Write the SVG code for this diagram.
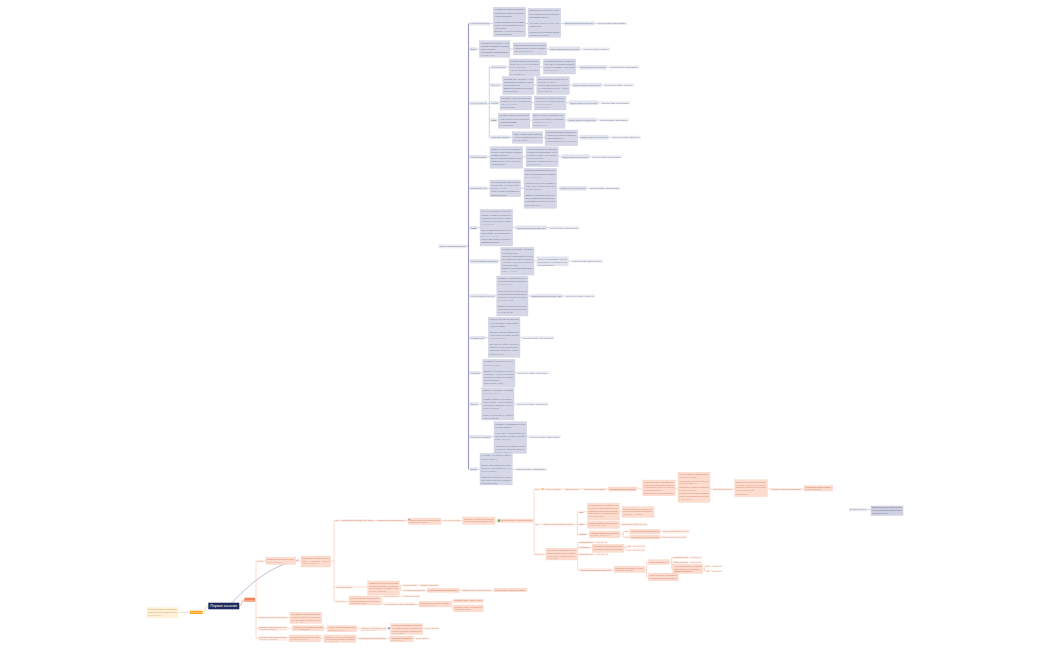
<svg xmlns="http://www.w3.org/2000/svg" width="1050" height="650" viewBox="0 0 1050 650">
<style>
.bb{fill:#d5d7e6;stroke:#c3c6da;stroke-width:.3}
.bl{fill:#e3e5ee;stroke:#d3d6e4;stroke-width:.2}
.be{fill:#ebecf2}
.ob{fill:#fcdccf;stroke:#f8c8b5;stroke-width:.3}
.ol{fill:#fdece5}
text{font-family:"Liberation Sans",Arial,sans-serif}
.tb{font-size:2.2px;fill:#7a7e98}
.to{font-size:2px;fill:#d3876c}
.cb{fill:none;stroke:#a3a7cc;stroke-width:.5}
.co{fill:none;stroke:#f6b59d;stroke-width:.5}
</style>
<rect width="1050" height="650" fill="#ffffff"/>
<g id="connectors">
<path fill="none" stroke="#9497bf" stroke-width="1.1" d="M467,246H468.5M468.5,23.5V469.3"/>
<path class="cb" d="M468.5,23.5H470M468.5,49H470M468.5,103.3H470M468.5,156.7H470M468.5,188.3H470M468.5,227.7H470M468.5,261H470M468.5,296H470M468.5,337.7H470M468.5,372.7H470M468.5,404H470M468.5,436.7H470M468.5,469.3H470"/>
<path class="cb" d="M490,23.5H493.3M525.7,23.5H528M560.7,23.5H564M594.3,23.5H596.7M476.7,49H479.3M510,49H513.3M546.7,49H549M580,49H582.7"/>
<path class="cb" d="M487.3,103.3H489.3M489.3,67V137.3M489.3,67H490.7M489.3,85H490.7M489.3,102.7H490.7M489.3,120H490.7M489.3,137.3H490.7"/>
<path class="cb" d="M506,67H509M540,67H543.3M575.7,67H579.3M606.7,67H609.3M500,85H502.7M534,85H536.7M569.3,85H572.7M601.7,85H604M498.3,102.7H500M531.7,102.7H534.3M566,102.7H569.3M598.3,102.7H600.7M496.7,120H498.3M530,120H532.3M565,120H567.7M596.7,120H599M510,137.3H512.3M542.7,137.3H545M577.7,137.3H580M608.7,137.3H611.7"/>
<path class="cb" d="M487.3,156.7H490M522.7,156.7H526M558.3,156.7H561.7M589.3,156.7H591.7M487.3,188.3H490M520.7,188.3H524M556.7,188.3H559.3M586.7,188.3H589.3M477.3,227.7H480M512.7,227.7H516M546.7,227.7H549M498.3,261H500.7M534,261H536.7M568.3,261H571.7M495,296H496.7M528,296H530.7M562.7,296H565M485,337.7H488.3M520,337.7H522.3M480,372.7H482.7M515,372.7H517.3M478.3,404H481.7M514,404H516.7M491,436.7H494M526.7,436.7H529M477.7,469.3H480M512.3,469.3H515.7"/>
<path class="cb" d="M867,509.7H870.7"/>
<path fill="none" stroke="#8d91c4" stroke-width=".6" d="M232,602.7C246,588 268,566 299,559.8"/>
<path fill="none" stroke="#f5b942" stroke-width=".6" d="M208.3,606C205,606 205.5,612.4 202.7,612.4"/>
<path fill="none" stroke="#d8cfb8" stroke-width=".5" d="M178.3,612.5H190"/>
<path fill="none" stroke="#f4845f" stroke-width=".7" d="M239.3,606C242,606 241.8,599.7 244.3,599.7"/>
<path class="co" d="M255,599.7H256M256,561V638.3M256,561H257M256,617.7H258.3M256,628.3H258.3M256,638.3H258.3" stroke-width=".8"/>
<path class="co" d="M264,561H265.7M296,561H301M330.7,561H334M334,520.7V601.7M334,520.7H335M334,587H335.7M334,601.7H335.7"/>
<path class="co" d="M339,520.7H341M374,520.7H377M405,520.7H408M441,520.7H444M460.7,520.7H462.7M495,520.7H497.3M533.3,520.7H534"/>
<path class="co" d="M353,587H367.7M399.3,587H400.7M400.7,585.2V590.5M400.7,585.2H402.7M417.3,585.2H420M400.7,590.5H402.7M425.3,590.5H427.3M459.3,590.5H461.7M491.7,590.5H494.3"/>
<path class="co" d="M346,601.7H349M380.7,601.7H382M382,596.2V604.2M382,596.2H384M399,596.2H402M382,604.2H384M415.7,604.2H419M450.7,604.2H451.7M451.7,600.8V608.3M451.7,600.8H453.3M451.7,608.3H453.3"/>
<path class="co" d="M287.7,617.7H290M287.3,628.3H292.3M324,628.3H327.3M356.7,628.3H360.7M386.7,628.3H390.7M422.7,628.3H425M287.3,638.3H289M320.7,638.3H324M356,638.3H359M386.7,638.3H390M413.3,638.3H415.7"/>
<path class="co" d="M534,489V554.3M534,489H535M534,524.3H535M534,554.3H535"/>
<path class="co" d="M539,489H545M561.7,489H564.3M580,489H583.3M606,489H608.7M636.7,489H642.7M675.3,489H678M710,489H712.7M732.7,489H734.7M767.3,489H770.7M801.7,489H804"/>
<path class="co" d="M539,524.3H542.7M573.3,524.3H577.3M577.3,511.7V534.3M577.3,511.7H578.7M584,511.7H587.3M619.3,511.7H622M577.3,524.3H578.7M584,524.3H587.3M619.3,524.3H621.3M577.3,534.3H578.7M586.7,534.3H589.3M620,534.3H623.3M623.3,531.7V537M623.3,531.7H625M628.3,531.7H630M660,531.7H662.7M623.3,537H625M628.3,537H630M660,537H661.7"/>
<path class="co" d="M543.3,554.3H546M576.7,554.3H577.7M577.7,542.3V570M577.7,542.3H579.3M577.7,547.7H579.3M577.7,554.3H579.3M577.7,570H579.3M593.3,542.3H596.7M590,547.7H592.3M624,547.7H626M626,546.2V550M626,546.2H627.7M630.7,546.2H633.3M626,550H627.7M630.7,550H633.3M593.3,554.3H596.7M611.7,570H614M645,570H646.7M646.7,562V577M646.7,562H648.3M646.7,577H648.3M669.3,562H671.7M671.7,557.7V569M671.7,557.7H672.7M671.7,562.3H672.7M671.7,569H672.7M688.3,557.7H690.7M688.3,562.3H690.7M702.7,569H704.7M704.7,566V571M704.7,566H706M709.3,566H712.3M704.7,571H706M709.3,571H712.3"/>
</g>
<g id="central">
<rect x="208.3" y="602.7" width="31" height="6.6" fill="#1f2a5c"/>
<text x="223.8" y="607.3" font-size="3.6" fill="#ffffff" text-anchor="middle" font-family="Liberation Serif, serif">Первое касание</text>
</g>
<g id="notes">
<rect x="190" y="610.7" width="12.7" height="3.3" fill="#f6a623"/>
<text x="191" y="613" font-size="1.9" fill="#ffffff" textLength="10.7">Заметки</text>
</g>
<g id="notes-text">
<rect x="146.7" y="607.3" width="31.6" height="10.7" fill="#fdf0d6"/>
<text class="to" style="fill:#c9a970" x="148" y="610.3" textLength="29">Перед звонком изучить сайт клиента,</text>
<text class="to" style="fill:#c9a970" x="148" y="613" textLength="29">найти ЛПР и подготовить вопросы</text>
<text class="to" style="fill:#c9a970" x="148" y="615.7" textLength="14">по продукту.</text>
</g>
<g id="script">
<rect x="244.3" y="597.7" width="10.7" height="4" fill="#f4845f"/>
<text x="245.3" y="600.5" font-size="1.9" fill="#ffffff" textLength="8.7">Скрипт</text>
</g>
<g id="extra">
<rect x="849" y="508" width="18" height="3.3" fill="#ebebef"/>
<text class="tb" x="849.8" y="510.4" textLength="16.4" style="fill:#8a8da0">Дополнительно</text>
<rect x="870.7" y="505.7" width="32.6" height="10" fill="#cfd1e3"/>
<text class="tb" x="872" y="508.3" textLength="30">Если клиент просит перезвонить, уточнить</text>
<text class="tb" x="872" y="510.9" textLength="30">точное время и имя контактного лица,</text>
<text class="tb" x="872" y="513.5" textLength="16">записать в CRM.</text>
</g>
<g id="blue-root">
<rect class="be" x="438.3" y="244.5" width="28.4" height="3.8"/>
<text class="tb" x="439.3" y="247.2" textLength="26.4">Основные возражения клиентов</text>
</g>
<g id="b1">
<rect class="bl" x="470" y="22" width="20" height="3.2"/><text class="tb" x="471" y="24.4" textLength="18">Нет потребности</text>
<rect class="bb" x="493.3" y="7.3" width="32.4" height="29.4"/>
<text class="tb" x="494.6" y="10.4" textLength="29.8">Понимаю вас. Скажите, пожалуйста,</text>
<text class="tb" x="494.6" y="13.5" textLength="29.8">а как сейчас решаете этот вопрос?</text>
<text class="tb" x="494.6" y="16.6" textLength="17">Кто ваш подрядчик?</text>
<text class="tb" x="494.6" y="22.8" textLength="29.8">Многие наши клиенты тоже так думали,</text>
<text class="tb" x="494.6" y="25.9" textLength="29.8">пока не посчитали свои расходы</text>
<text class="tb" x="494.6" y="29" textLength="12">на логистику.</text>
<text class="tb" x="494.6" y="32.1" textLength="29.8">Давайте я коротко расскажу,</text>
<text class="tb" x="494.6" y="35.2" textLength="17">что мы предлагаем.</text>
<rect class="bb" x="528" y="8.3" width="32.7" height="29"/>
<text class="tb" x="529.3" y="11.4" textLength="30">Если появится потребность, к кому</text>
<text class="tb" x="529.3" y="14.5" textLength="30">лучше обратиться? Можно я пришлю</text>
<text class="tb" x="529.3" y="17.6" textLength="19">информацию на почту?</text>
<text class="tb" x="529.3" y="23.8" textLength="30">Как вам удобнее получать</text>
<text class="tb" x="529.3" y="26.9" textLength="12">предложения?</text>
<text class="tb" x="529.3" y="33.1" textLength="30">Спасибо! Тогда я отправлю письмо</text>
<text class="tb" x="529.3" y="36.2" textLength="20">сегодня до конца дня.</text>
<rect class="bl" x="564" y="21.7" width="30.3" height="3.6"/><text class="tb" x="565" y="24.3" textLength="28.3">Задать вопрос и выслушать ответ</text>
<rect class="be" x="596.7" y="22" width="30" height="3"/><text class="tb" x="597.5" y="24.3" textLength="28.4">Переход к этапу «Презентация»</text>
</g>
<g id="b2">
<rect class="bl" x="470" y="47.4" width="6.7" height="3.2"/><text class="tb" x="470.6" y="49.8" textLength="5.5">Дорого</text>
<rect class="bb" x="479.3" y="40.7" width="30.7" height="16.6"/>
<text class="tb" x="480.6" y="43.8" textLength="28.1">Понимаю вас. Скажите, с чем</text>
<text class="tb" x="480.6" y="46.9" textLength="28.1">сравниваете? Давайте посчитаем</text>
<text class="tb" x="480.6" y="50" textLength="16">общую стоимость.</text>
<text class="tb" x="480.6" y="53.1" textLength="28.1">Мы работаем с компаниями вашего</text>
<text class="tb" x="480.6" y="56.2" textLength="15">размера.</text>
<rect class="bb" x="513.3" y="42.7" width="33.4" height="12.3"/>
<text class="tb" x="514.6" y="45.8" textLength="30.8">Если посчитать все расходы, то выгода</text>
<text class="tb" x="514.6" y="48.9" textLength="30.8">составит до 20%. Можно я пришлю</text>
<text class="tb" x="514.6" y="52" textLength="18">расчёт на почту?</text>
<rect class="bl" x="549" y="46.7" width="31" height="4.3"/><text class="tb" x="550" y="49.6" textLength="29">Задать вопрос и выслушать ответ</text>
<rect class="be" x="582.7" y="47.5" width="27.3" height="3"/><text class="tb" x="583.5" y="49.8" textLength="25.7">Переход к этапу «Расчёт»</text>
</g>
<g id="b3">
<rect class="bl" x="470" y="101.7" width="17.3" height="3.2"/><text class="tb" x="470.8" y="104.1" textLength="15.7">Нет времени</text>
<rect class="bl" x="490.7" y="65.4" width="15.3" height="3.2"/><text class="tb" x="491.4" y="67.8" textLength="13.9">Конкуренты</text>
<rect class="bb" x="509" y="59" width="31" height="17"/>
<text class="tb" x="510.3" y="62.1" textLength="28.4">Понимаю. Скажите, а с кем сейчас</text>
<text class="tb" x="510.3" y="65.2" textLength="28.4">работаете и что нравится</text>
<text class="tb" x="510.3" y="68.3" textLength="16">в их работе?</text>
<text class="tb" x="510.3" y="71.4" textLength="28.4">Что бы хотелось улучшить</text>
<text class="tb" x="510.3" y="74.5" textLength="14">в сервисе?</text>
<rect class="bb" x="543.3" y="59" width="32.4" height="15"/>
<text class="tb" x="544.6" y="62.1" textLength="29.8">Предлагаю сравнить условия, это</text>
<text class="tb" x="544.6" y="65.2" textLength="29.8">ни к чему не обязывает. Пришлю</text>
<text class="tb" x="544.6" y="68.3" textLength="29.8">короткую таблицу с расчётом</text>
<text class="tb" x="544.6" y="71.4" textLength="14">на почту.</text>
<rect class="bl" x="579.3" y="65.3" width="27.4" height="4"/><text class="tb" x="580.2" y="68.1" textLength="25.6">Задать вопрос и выслушать</text>
<rect class="be" x="609.3" y="65.5" width="29.7" height="3"/><text class="tb" x="610.1" y="67.8" textLength="28.1">Переход к этапу «Презентация»</text>
<rect class="bl" x="490.7" y="83.4" width="9.3" height="3.2"/><text class="tb" x="491.4" y="85.8" textLength="7.9">Цена</text>
<rect class="bb" x="502.7" y="76.7" width="31.3" height="17.8"/>
<text class="tb" x="504" y="79.8" textLength="28.7">Понимаю вас. Скажите, с чем</text>
<text class="tb" x="504" y="82.9" textLength="28.7">сравниваете стоимость? Какой</text>
<text class="tb" x="504" y="86" textLength="16">бюджет заложен?</text>
<text class="tb" x="504" y="89.1" textLength="28.7">Давайте посчитаем общую выгоду</text>
<text class="tb" x="504" y="92.2" textLength="15">за год работы.</text>
<rect class="bb" x="536.7" y="76.7" width="32.6" height="17.8"/>
<text class="tb" x="538" y="79.8" textLength="30">Если посчитать все расходы, то</text>
<text class="tb" x="538" y="82.9" textLength="18">выгода до 20%.</text>
<text class="tb" x="538" y="86" textLength="30">Можно я пришлю расчёт на почту</text>
<text class="tb" x="538" y="89.1" textLength="30">и созвонимся после, чтобы</text>
<text class="tb" x="538" y="92.2" textLength="14">обсудить?</text>
<rect class="bl" x="572.7" y="83" width="29" height="4"/><text class="tb" x="573.6" y="85.8" textLength="27.2">Задать вопрос и выслушать</text>
<rect class="be" x="604" y="83.5" width="30" height="3"/><text class="tb" x="604.8" y="85.8" textLength="28.4">Переход к этапу «Расчёт»</text>
<rect class="bl" x="490.7" y="101.1" width="7.6" height="3.2"/><text class="tb" x="491.3" y="103.5" textLength="6.4">Сроки</text>
<rect class="bb" x="500" y="96" width="31.7" height="14"/>
<text class="tb" x="501.3" y="99.1" textLength="29.1">Понимаю. Какие сроки для вас</text>
<text class="tb" x="501.3" y="102.2" textLength="29.1">критичны? Мы доставляем</text>
<text class="tb" x="501.3" y="105.3" textLength="17">за 1–3 дня.</text>
<text class="tb" x="501.3" y="108.4" textLength="14">по всей России.</text>
<rect class="bb" x="534.3" y="96" width="31.7" height="14"/>
<text class="tb" x="535.6" y="99.1" textLength="29.1">Предлагаю тестовую поставку,</text>
<text class="tb" x="535.6" y="102.2" textLength="29.1">чтобы вы оценили скорость</text>
<text class="tb" x="535.6" y="105.3" textLength="17">и качество.</text>
<text class="tb" x="535.6" y="108.4" textLength="14">Удобно?</text>
<rect class="bl" x="569.3" y="100.6" width="29" height="4.2"/><text class="tb" x="570.2" y="103.5" textLength="27.2">Задать вопрос и выслушать</text>
<rect class="be" x="600.7" y="101.2" width="29.3" height="3"/><text class="tb" x="601.5" y="103.5" textLength="27.7">Переход к этапу «Презентация»</text>
<rect class="bl" x="490.7" y="118.4" width="6" height="3.2"/><text class="tb" x="491.2" y="120.8" textLength="5">Объём</text>
<rect class="bb" x="498.3" y="113.3" width="31.7" height="15"/>
<text class="tb" x="499.6" y="116.4" textLength="29.1">Понимаю. Какие объёмы сейчас</text>
<text class="tb" x="499.6" y="119.5" textLength="29.1">у вас в месяц? Мы работаем</text>
<text class="tb" x="499.6" y="122.6" textLength="17">с любыми объёмами.</text>
<text class="tb" x="499.6" y="125.7" textLength="14">от 1 паллеты.</text>
<rect class="bb" x="532.3" y="113.3" width="32.7" height="15"/>
<text class="tb" x="533.6" y="116.4" textLength="30.1">Для небольших объёмов есть</text>
<text class="tb" x="533.6" y="119.5" textLength="30.1">отдельный тариф. Рассказать</text>
<text class="tb" x="533.6" y="122.6" textLength="17">подробнее?</text>
<text class="tb" x="533.6" y="125.7" textLength="14">Отлично.</text>
<rect class="bl" x="567.7" y="118" width="29" height="4"/><text class="tb" x="568.6" y="120.8" textLength="27.2">Задать вопрос и выслушать</text>
<rect class="be" x="599" y="118.5" width="30" height="3"/><text class="tb" x="599.8" y="120.8" textLength="28.4">Переход к этапу «Презентация»</text>
<rect class="bl" x="490.7" y="135.7" width="19.3" height="3.2"/><text class="tb" x="491.4" y="138.1" textLength="17.9">Условия оплаты</text>
<rect class="bb" x="512.3" y="131.7" width="30.4" height="11.6"/>
<text class="tb" x="513.6" y="134.8" textLength="27.8">Какие условия оплаты для вас</text>
<text class="tb" x="513.6" y="137.9" textLength="27.8">удобны? Возможна отсрочка</text>
<text class="tb" x="513.6" y="141" textLength="14">до 30 дней.</text>
<rect class="bb" x="545" y="130" width="32.7" height="15.7"/>
<text class="tb" x="546.3" y="133.1" textLength="30.1">Мы можем обсудить индивидуальные</text>
<text class="tb" x="546.3" y="136.2" textLength="30.1">условия для вашей компании.</text>
<text class="tb" x="546.3" y="139.3" textLength="17">Назначим встречу?</text>
<text class="tb" x="546.3" y="142.4" textLength="30.1">Когда вам будет удобно?</text>
<rect class="bl" x="580" y="135.1" width="28.7" height="4.3"/><text class="tb" x="580.9" y="138.1" textLength="26.9">Задать вопрос и выслушать</text>
<rect class="be" x="611.7" y="135.8" width="29" height="3"/><text class="tb" x="612.5" y="138.1" textLength="27.4">Переход к этапу «Встреча»</text>
</g>
<g id="b4">
<rect class="bl" x="470" y="155.1" width="17.3" height="3.2"/><text class="tb" x="470.8" y="157.5" textLength="15.7">Уже есть поставщик</text>
<rect class="bb" x="490" y="146.7" width="32.7" height="21.6"/>
<text class="tb" x="491.3" y="149.8" textLength="30.1">Отлично, значит вы понимаете</text>
<text class="tb" x="491.3" y="152.9" textLength="30.1">ценность услуги. Скажите, как долго</text>
<text class="tb" x="491.3" y="156" textLength="17">с ними работаете?</text>
<text class="tb" x="491.3" y="159.1" textLength="30.1">Всё ли устраивает? Если бы была</text>
<text class="tb" x="491.3" y="162.2" textLength="30.1">возможность что-то улучшить,</text>
<text class="tb" x="491.3" y="165.3" textLength="14">что бы это было?</text>
<rect class="bb" x="526" y="146.7" width="32.3" height="20"/>
<text class="tb" x="527.3" y="149.8" textLength="29.7">Многие наши клиенты работают</text>
<text class="tb" x="527.3" y="152.9" textLength="29.7">с двумя поставщиками, чтобы</text>
<text class="tb" x="527.3" y="156" textLength="29.7">снизить риски. Предлагаю</text>
<text class="tb" x="527.3" y="159.1" textLength="17">попробовать.</text>
<text class="tb" x="527.3" y="162.2" textLength="29.7">Пришлю условия на почту?</text>
<text class="tb" x="527.3" y="165.3" textLength="14">Спасибо.</text>
<rect class="bl" x="561.7" y="154.5" width="27.6" height="4.3"/><text class="tb" x="562.6" y="157.5" textLength="25.8">Задать вопрос и выслушать</text>
<rect class="be" x="591.7" y="155.2" width="30" height="3"/><text class="tb" x="592.5" y="157.5" textLength="28.4">Переход к этапу «Презентация»</text>
</g>
<g id="b5">
<rect class="bl" x="470" y="186.7" width="17.3" height="3.2"/><text class="tb" x="470.8" y="189.1" textLength="15.7">Пришлите КП</text>
<rect class="bb" x="490" y="180" width="30.7" height="16.7"/>
<text class="tb" x="491.3" y="183.1" textLength="28.1">Конечно, пришлю. Чтобы КП было</text>
<text class="tb" x="491.3" y="186.2" textLength="28.1">полезным, уточните пару</text>
<text class="tb" x="491.3" y="189.3" textLength="16">моментов.</text>
<text class="tb" x="491.3" y="192.4" textLength="28.1">Какие объёмы и направления</text>
<text class="tb" x="491.3" y="195.5" textLength="15">вам интересны?</text>
<rect class="bb" x="524" y="168.3" width="32.7" height="40"/>
<text class="tb" x="525.3" y="171.4" textLength="30.1">Спасибо! Я подготовлю предложение</text>
<text class="tb" x="525.3" y="174.5" textLength="30.1">именно под ваши задачи и отправлю</text>
<text class="tb" x="525.3" y="177.6" textLength="17">сегодня.</text>
<text class="tb" x="525.3" y="183.8" textLength="30.1">На какую почту лучше отправить?</text>
<text class="tb" x="525.3" y="186.9" textLength="30.1">Кому адресовать письмо?</text>
<text class="tb" x="525.3" y="190" textLength="17">Записываю.</text>
<text class="tb" x="525.3" y="196.2" textLength="30.1">Давайте созвонимся после того,</text>
<text class="tb" x="525.3" y="199.3" textLength="30.1">как вы посмотрите предложение.</text>
<text class="tb" x="525.3" y="202.4" textLength="30.1">Когда вам будет удобно, в четверг</text>
<text class="tb" x="525.3" y="205.5" textLength="16">или пятницу?</text>
<rect class="bl" x="559.3" y="186.2" width="27.4" height="4.2"/><text class="tb" x="560.2" y="189.1" textLength="25.6">Задать вопрос и выслушать</text>
<rect class="be" x="589.3" y="186.8" width="30.7" height="3"/><text class="tb" x="590.1" y="189.1" textLength="29.1">Переход к этапу «Презентация»</text>
</g>
<g id="b6">
<rect class="bl" x="470" y="226.1" width="7.3" height="3.2"/><text class="tb" x="470.6" y="228.5" textLength="6.1">Подумаю</text>
<rect class="bb" x="480" y="209.3" width="32.7" height="36.7"/>
<text class="tb" x="481.3" y="212.4" textLength="30.1">Конечно, это важное решение.</text>
<text class="tb" x="481.3" y="215.5" textLength="30.1">Скажите, что именно хотелось бы</text>
<text class="tb" x="481.3" y="218.6" textLength="30.1">обдумать? Может быть, я смогу</text>
<text class="tb" x="481.3" y="221.7" textLength="30.1">ответить на вопросы прямо</text>
<text class="tb" x="481.3" y="224.8" textLength="14">сейчас.</text>
<text class="tb" x="481.3" y="231" textLength="30.1">Обычно сомнения связаны с ценой</text>
<text class="tb" x="481.3" y="234.1" textLength="30.1">или сроками. Что для вас важнее</text>
<text class="tb" x="481.3" y="237.2" textLength="16">всего?</text>
<text class="tb" x="481.3" y="240.3" textLength="30.1">Когда я могу вам перезвонить?</text>
<text class="tb" x="481.3" y="243.4" textLength="18">Записываю в календарь.</text>
<rect class="bl" x="516" y="225.6" width="30.7" height="4.3"/><text class="tb" x="517" y="228.5" textLength="28.7">Задать вопрос и выслушать ответ</text>
<rect class="be" x="549" y="226.2" width="30.3" height="3"/><text class="tb" x="549.8" y="228.5" textLength="28.7">Переход к этапу «Презентация»</text>
</g>
<g id="b7">
<rect class="bl" x="470" y="259.2" width="28.3" height="4"/><text class="tb" x="470.8" y="261.9" textLength="26.7">Решение принимает руководитель</text>
<rect class="bb" x="500.7" y="247.3" width="33.3" height="27.7"/>
<text class="tb" x="502" y="250.4" textLength="30.7">Понимаю. Подскажите, как зовут</text>
<text class="tb" x="502" y="253.5" textLength="16">руководителя?</text>
<text class="tb" x="502" y="256.6" textLength="30.7">Как лучше с ним связаться? Можно</text>
<text class="tb" x="502" y="259.7" textLength="30.7">ли сослаться на вас при звонке?</text>
<text class="tb" x="502" y="262.8" textLength="30.7">Что для него будет важно</text>
<text class="tb" x="502" y="265.9" textLength="16">в предложении?</text>
<text class="tb" x="502" y="269" textLength="30.7">Давайте я подготовлю материалы</text>
<text class="tb" x="502" y="272.1" textLength="16">для него.</text>
<rect class="bl" x="536.7" y="256.7" width="31.6" height="9.3"/>
<text class="tb" x="537.9" y="259.8" textLength="29.2">Можно организовать звонок</text>
<text class="tb" x="537.9" y="262.9" textLength="29.2">втроём с руководителем</text>
<text class="tb" x="537.9" y="266" textLength="16">на этой неделе?</text>
<rect class="be" x="571.7" y="259.5" width="31" height="3"/><text class="tb" x="572.5" y="261.8" textLength="29.4">Переход к этапу «Встреча с ЛПР»</text>
</g>
<g id="b8">
<rect class="bl" x="470" y="294.4" width="25" height="3.2"/><text class="tb" x="470.8" y="296.8" textLength="23.4">Нет бюджета на это</text>
<rect class="bb" x="496.7" y="276" width="31.3" height="40"/>
<text class="tb" x="498" y="279.1" textLength="28.7">Понимаю. Когда планируется</text>
<text class="tb" x="498" y="282.2" textLength="28.7">следующий бюджетный период?</text>
<text class="tb" x="498" y="285.3" textLength="16">Запишу.</text>
<text class="tb" x="498" y="291.5" textLength="28.7">Наше решение окупается за</text>
<text class="tb" x="498" y="294.6" textLength="28.7">несколько месяцев, поэтому многие</text>
<text class="tb" x="498" y="297.7" textLength="28.7">клиенты находят средства</text>
<text class="tb" x="498" y="300.8" textLength="16">в текущем.</text>
<text class="tb" x="498" y="307" textLength="28.7">Давайте я пришлю расчёт, чтобы</text>
<text class="tb" x="498" y="310.1" textLength="28.7">вы могли обосновать расходы</text>
<text class="tb" x="498" y="313.2" textLength="16">руководству.</text>
<rect class="bl" x="530.7" y="294.4" width="32" height="3.3"/><text class="tb" x="531.6" y="296.8" textLength="30.2">Задать вопрос и выслушать ответ</text>
<rect class="be" x="565" y="294.5" width="30" height="3"/><text class="tb" x="565.8" y="296.8" textLength="28.4">Переход к этапу «Расчёт»</text>
</g>
<g id="b9">
<rect class="bl" x="470" y="336.1" width="15" height="3.2"/><text class="tb" x="470.8" y="338.5" textLength="13.4">Мы маленькие</text>
<rect class="bb" x="488.3" y="317.3" width="31.7" height="40"/>
<text class="tb" x="489.6" y="320.4" textLength="29.1">Отлично! Мы как раз работаем</text>
<text class="tb" x="489.6" y="323.5" textLength="29.1">с небольшими компаниями,</text>
<text class="tb" x="489.6" y="326.6" textLength="16">у нас есть тарифы.</text>
<text class="tb" x="489.6" y="332.8" textLength="29.1">Скажите, сколько отправлений</text>
<text class="tb" x="489.6" y="335.9" textLength="29.1">у вас в месяц? Какие города</text>
<text class="tb" x="489.6" y="339" textLength="16">основные?</text>
<text class="tb" x="489.6" y="345.2" textLength="29.1">Для вас подойдёт базовый</text>
<text class="tb" x="489.6" y="348.3" textLength="29.1">тариф без абонентской платы.</text>
<text class="tb" x="489.6" y="351.4" textLength="29.1">Рассказать подробнее, как это</text>
<text class="tb" x="489.6" y="354.5" textLength="14">работает?</text>
<rect class="be" x="522.3" y="336.2" width="32" height="3"/><text class="tb" x="523.1" y="338.5" textLength="30.4">Переход к этапу «Презентация»</text>
</g>
<g id="b10">
<rect class="bl" x="470" y="371.1" width="10" height="3.2"/><text class="tb" x="470.7" y="373.5" textLength="8.6">Не сейчас</text>
<rect class="bb" x="482.7" y="359.3" width="32.3" height="27.4"/>
<text class="tb" x="484" y="362.4" textLength="29.7">Понимаю. Когда будет удобнее</text>
<text class="tb" x="484" y="365.5" textLength="16">вернуться?</text>
<text class="tb" x="484" y="371.7" textLength="29.7">Давайте я пришлю короткое</text>
<text class="tb" x="484" y="374.8" textLength="29.7">описание, чтобы вы могли</text>
<text class="tb" x="484" y="377.9" textLength="29.7">посмотреть в свободное время.</text>
<text class="tb" x="484" y="381" textLength="16">Договорились?</text>
<text class="tb" x="484" y="384.1" textLength="20">Записываю дату.</text>
<rect class="be" x="517.3" y="371.2" width="32" height="3"/><text class="tb" x="518.1" y="373.5" textLength="30.4">Переход к этапу «Перезвон»</text>
</g>
<g id="b11">
<rect class="bl" x="470" y="402.4" width="8.3" height="3.2"/><text class="tb" x="470.7" y="404.8" textLength="6.9">Занят</text>
<rect class="bb" x="481.7" y="387.7" width="32.3" height="32.3"/>
<text class="tb" x="483" y="390.8" textLength="29.7">Извините, что отвлёк. Когда вам</text>
<text class="tb" x="483" y="393.9" textLength="16">удобно?</text>
<text class="tb" x="483" y="400.1" textLength="29.7">Я займу буквально одну минуту,</text>
<text class="tb" x="483" y="403.2" textLength="29.7">чтобы понять, есть ли смысл</text>
<text class="tb" x="483" y="406.3" textLength="29.7">продолжать разговор. Можно</text>
<text class="tb" x="483" y="409.4" textLength="16">один вопрос?</text>
<text class="tb" x="483" y="415.6" textLength="29.7">Если нет, перезвоню завтра</text>
<text class="tb" x="483" y="418.7" textLength="16">в это же время.</text>
<rect class="be" x="516.7" y="402.5" width="31.6" height="3"/><text class="tb" x="517.5" y="404.8" textLength="30">Переход к этапу «Перезвон»</text>
</g>
<g id="b12">
<rect class="bl" x="470" y="435.1" width="21" height="3.2"/><text class="tb" x="470.8" y="437.5" textLength="19.4">Решение не за мной</text>
<rect class="bb" x="494" y="421.7" width="32.7" height="31.6"/>
<text class="tb" x="495.3" y="424.8" textLength="30.1">Понимаю. А кто принимает решение</text>
<text class="tb" x="495.3" y="427.9" textLength="16">по этому вопросу?</text>
<text class="tb" x="495.3" y="434.1" textLength="30.1">Как я могу с ним связаться?</text>
<text class="tb" x="495.3" y="437.2" textLength="30.1">Подскажите его имя и телефон</text>
<text class="tb" x="495.3" y="440.3" textLength="16">или почту.</text>
<text class="tb" x="495.3" y="446.5" textLength="30.1">Спасибо! Могу сослаться на вас,</text>
<text class="tb" x="495.3" y="449.6" textLength="30.1">когда буду звонить? Отлично,</text>
<text class="tb" x="495.3" y="452.7" textLength="16">спасибо.</text>
<rect class="be" x="529" y="435.2" width="31.7" height="3"/><text class="tb" x="529.8" y="437.5" textLength="30.1">Переход к этапу «Звонок ЛПР»</text>
</g>
<g id="b13">
<rect class="bl" x="470" y="467.7" width="7.7" height="3.2"/><text class="tb" x="470.6" y="470.1" textLength="6.5">Другое</text>
<rect class="bb" x="480" y="453.3" width="32.3" height="31.7"/>
<text class="tb" x="481.3" y="456.4" textLength="29.7">Уточнить, что именно имеет</text>
<text class="tb" x="481.3" y="459.5" textLength="16">в виду клиент.</text>
<text class="tb" x="481.3" y="465.7" textLength="29.7">Задать открытый вопрос и дать</text>
<text class="tb" x="481.3" y="468.8" textLength="29.7">клиенту высказаться, не</text>
<text class="tb" x="481.3" y="471.9" textLength="16">перебивая.</text>
<text class="tb" x="481.3" y="478.1" textLength="29.7">Записать возражение в CRM</text>
<text class="tb" x="481.3" y="481.2" textLength="29.7">для дальнейшего анализа</text>
<text class="tb" x="481.3" y="484.3" textLength="16">руководителем.</text>
<rect class="be" x="515.7" y="467.8" width="31" height="3"/><text class="tb" x="516.5" y="470.1" textLength="29.4">Переход к этапу «Презентация»</text>
</g>
<g id="o-goal">
<rect class="ol" x="257" y="559.8" width="7" height="2.5"/><text class="to" x="257.6" y="561.7" textLength="5.8">Цель</text>
<rect class="ob" x="265.7" y="557.3" width="30.3" height="7"/>
<text class="to" x="267" y="560.2" textLength="27.7">Выйти на ЛПР и назначить встречу</text>
<text class="to" x="267" y="562.9" textLength="15">или звонок</text>
<rect class="ob" x="301" y="556" width="29.7" height="11"/>
<text class="to" x="302.3" y="558.9" textLength="27.1">Приветствие: «Добрый день, меня</text>
<text class="to" x="302.3" y="561.6" textLength="27.1">зовут ..., компания ... Удобно</text>
<text class="to" x="302.3" y="564.3" textLength="16">говорить?»</text>
</g>
<g id="o-yes">
<rect class="ol" x="335" y="519.5" width="4" height="2.5"/><text class="to" x="335.5" y="521.4" textLength="3">Да</text>
<rect class="ol" x="341" y="519.3" width="33" height="2.8"/><text class="to" x="341.6" y="521.4" textLength="31.8">Представиться и назвать цель звонка</text>
<rect class="ol" x="377" y="519.5" width="28" height="2.5"/><text class="to" x="377.6" y="521.4" textLength="26.8">Выявление потребности клиента</text>
<rect class="ob" x="408" y="518.3" width="33" height="6"/>
<circle cx="409.3" cy="519.8" r=".8" fill="#e2504a"/>
<text class="to" x="410.6" y="520.7" textLength="29.8">Задать вопросы о текущей ситуации,</text>
<text class="to" x="409.3" y="523.3" textLength="18">выслушать ответ</text>
<rect class="ol" x="444" y="519.5" width="16.7" height="2.5"/><text class="to" x="444.6" y="521.4" textLength="15.5">Презентация</text>
<rect class="ob" x="462.7" y="517" width="32.3" height="7.3"/>
<text class="to" x="464" y="519.7" textLength="29.7">Рассказать о выгодах решения для</text>
<text class="to" x="464" y="522.3" textLength="29.7">клиента, привести пример кейса</text>
<rect class="ob" x="497.3" y="519" width="36" height="3.4"/>
<rect x="497.9" y="519.5" width="2.2" height="2.4" fill="#5cb85c"/>
<text class="to" x="500.8" y="521.4" textLength="31.8">Предложить встречу: «Когда вам удобно?»</text>
</g>
<g id="o-later">
<rect class="ol" x="335.7" y="585.5" width="17.3" height="3.2"/><text class="to" x="336.3" y="587.7" textLength="16.1">Не удобно говорить</text>
<rect class="ob" x="367.7" y="581" width="31.6" height="14"/>
<text class="to" x="369" y="583.9" textLength="29">Извиниться и уточнить удобное время</text>
<text class="to" x="369" y="586.6" textLength="29">для звонка. Спросить, кто отвечает</text>
<text class="to" x="369" y="589.3" textLength="29">за этот вопрос, и записать имя</text>
<text class="to" x="369" y="592" textLength="18">в CRM-систему.</text>
<rect class="ol" x="402.7" y="584.1" width="14.6" height="2.3"/><text class="to" x="403.2" y="585.9" textLength="13.6">Назвал время</text>
<rect class="ol" x="420" y="584.1" width="19" height="2.3"/><text class="to" x="420.5" y="585.9" textLength="18">Записать в календарь</text>
<rect class="ol" x="402.7" y="589.3" width="22.6" height="2.5"/><text class="to" x="403.2" y="591.2" textLength="21.6">Не назвал время звонка</text>
<rect class="ob" x="427.3" y="588.3" width="32" height="4"/><text class="to" x="428.6" y="591.1" textLength="29.4">Предложить варианты: завтра или в пятницу</text>
<rect class="ol" x="461.7" y="589.3" width="30" height="2.5"/><text class="to" x="462.2" y="591.2" textLength="29">Зафиксировать договорённость</text>
<rect class="ob" x="494.3" y="588.3" width="32.4" height="3.4"/><text class="to" x="495.3" y="590.7" textLength="30.4">Попрощаться: «Спасибо, до связи!»</text>
</g>
<g id="o-no">
<rect class="ol" x="335.7" y="600.5" width="10.3" height="2.5"/><text class="to" x="336.2" y="602.4" textLength="9.3">Отказ</text>
<rect class="ob" x="349" y="596" width="31.7" height="9"/>
<text class="to" x="350.3" y="598.8" textLength="29.1">Уточнить причину отказа, задать</text>
<text class="to" x="350.3" y="601.5" textLength="29.1">открытый вопрос и отработать</text>
<text class="to" x="350.3" y="604.2" textLength="16">возражение</text>
<rect class="ol" x="384" y="595" width="15" height="2.3"/><text class="to" x="384.5" y="596.8" textLength="14">Отработано</text>
<rect class="ol" x="402" y="595" width="18" height="2.3"/><text class="to" x="402.5" y="596.8" textLength="17">К презентации</text>
<rect class="ol" x="384" y="602.7" width="31.7" height="3"/><text class="to" x="384.5" y="604.8" textLength="30.7">Не отработано, клиент настаивает</text>
<rect class="ob" x="419" y="601.3" width="31.7" height="5.7"/>
<text class="to" x="420.3" y="603.8" textLength="29.1">Вежливо попрощаться и оставить</text>
<text class="to" x="420.3" y="606.2" textLength="14">контакты</text>
<rect class="ob" x="453.3" y="599.3" width="30" height="3"/><text class="to" x="454.3" y="601.4" textLength="28">Отметить статус «Отказ» в CRM</text>
<rect class="ob" x="453.3" y="605" width="30" height="6.7"/>
<text class="to" x="454.6" y="607.6" textLength="27.4">Поставить задачу на повторный</text>
<text class="to" x="454.6" y="610.2" textLength="16">звонок через 3 мес.</text>
</g>
<g id="o-b">
<rect class="ol" x="258.3" y="616.5" width="29.4" height="2.5"/><text class="to" x="258.8" y="618.4" textLength="28.4">Если ответил секретарь</text>
<rect class="ob" x="290" y="612.3" width="31.7" height="11"/>
<text class="to" x="291.3" y="615.2" textLength="29.1">Представиться, попросить соединить</text>
<text class="to" x="291.3" y="617.9" textLength="29.1">с ответственным за закупки.</text>
<text class="to" x="291.3" y="620.6" textLength="29.1">Уточнить имя и прямой номер</text>
<text class="to" x="291.3" y="623" textLength="14">ЛПР.</text>
</g>
<g id="o-c">
<rect class="ol" x="258.3" y="626.2" width="29" height="4.6"/>
<text class="to" x="258.8" y="628.1" textLength="28">Если клиент задаёт вопрос о цене</text>
<text class="to" x="258.8" y="630.4" textLength="18">в начале разговора</text>
<rect class="ob" x="292.3" y="625.7" width="31.7" height="5"/>
<text class="to" x="293.6" y="627.9" textLength="29.1">Ответить, что цена зависит от объёма</text>
<text class="to" x="293.6" y="630.2" textLength="16">и условий</text>
<rect class="ob" x="327.3" y="625.7" width="29.4" height="6"/>
<text class="to" x="328.6" y="628" textLength="26.8">Задать уточняющие вопросы для</text>
<text class="to" x="328.6" y="630.6" textLength="16">расчёта цены</text>
<rect class="ol" x="360.7" y="626.7" width="26" height="4.3"/>
<text class="to" x="361.2" y="628.5" textLength="25">Назвать диапазон цен</text>
<text class="to" x="361.2" y="630.6" textLength="14">по рынку</text>
<rect x="388" y="627.2" width="2" height="2.2" fill="#9aa3d6"/>
<rect class="ob" x="390.7" y="623.7" width="32" height="10.6"/>
<text class="to" x="392" y="626.3" textLength="29.4">Предложить подготовить точный расчёт</text>
<text class="to" x="392" y="628.9" textLength="29.4">и отправить на почту; договориться</text>
<text class="to" x="392" y="631.5" textLength="29.4">о звонке после получения расчёта</text>
<text class="to" x="392" y="633.8" textLength="12">клиентом</text>
<rect class="ol" x="425" y="627.2" width="14.3" height="2.3"/><text class="to" x="425.5" y="629" textLength="13.3">Итог звонка</text>
</g>
<g id="o-d">
<rect class="ol" x="258.3" y="636.2" width="29" height="4.6"/>
<text class="to" x="258.8" y="638.1" textLength="28">Если клиент просит перезвонить</text>
<text class="to" x="258.8" y="640.4" textLength="18">через неделю</text>
<rect class="ob" x="289" y="635" width="31.7" height="6.7"/>
<text class="to" x="290.3" y="637.6" textLength="29.1">Согласиться и уточнить точную дату</text>
<text class="to" x="290.3" y="640.2" textLength="18">и время звонка</text>
<rect class="ob" x="324" y="635" width="32" height="7.3"/>
<text class="to" x="325.3" y="637.5" textLength="29.4">Спросить, что нужно подготовить</text>
<text class="to" x="325.3" y="640" textLength="29.4">к следующему разговору, и записать</text>
<text class="to" x="325.3" y="642.1" textLength="12">в CRM</text>
<rect class="ol" x="359" y="637.3" width="27.7" height="2.7"/><text class="to" x="359.5" y="639.3" textLength="26.7">Поставить задачу в CRM-системе</text>
<rect class="ob" x="390" y="636" width="23.3" height="5.7"/>
<text class="to" x="391.3" y="638.5" textLength="20.7">Отправить письмо-напоминание</text>
<text class="to" x="391.3" y="640.9" textLength="12">клиенту</text>
<rect class="ol" x="415.7" y="637.4" width="13.6" height="2.3"/><text class="to" x="416.2" y="639.2" textLength="12.6">Итог звонка</text>
</g>
<g id="o-r1">
<rect class="ol" x="535" y="488" width="4" height="2.5"/><text class="to" x="535.5" y="489.9" textLength="3">Да</text>
<circle cx="542.7" cy="489.2" r=".9" fill="#f5a04a"/>
<rect class="ol" x="545" y="488" width="16.7" height="2.5"/><text class="to" x="545.5" y="489.9" textLength="15.7">Клиент согласен</text>
<rect class="ol" x="564.3" y="488" width="15.7" height="2.5"/><text class="to" x="564.8" y="489.9" textLength="14.7">Назначить встречу</text>
<rect class="ol" x="583.3" y="488" width="22.7" height="2.5"/><text class="to" x="583.8" y="489.9" textLength="21.7">Уточнить дату, время и место</text>
<rect class="ob" x="608.7" y="487" width="28" height="4"/><text class="to" x="609.7" y="489.7" textLength="26">Отправить приглашение в календарь</text>
<rect class="ob" x="642.7" y="480" width="32.6" height="15.7"/>
<text class="to" x="644" y="482.8" textLength="30">Подтвердить встречу письмом: дата,</text>
<text class="to" x="644" y="485.5" textLength="30">время, адрес или ссылка на звонок,</text>
<text class="to" x="644" y="488.2" textLength="30">участники со стороны клиента</text>
<text class="to" x="644" y="490.9" textLength="18">и с нашей стороны.</text>
<text class="to" x="644" y="494" textLength="30">Приложить презентацию компании.</text>
<rect class="ob" x="678" y="472.3" width="32" height="30"/>
<text class="to" x="679.3" y="475.1" textLength="29.4">За день до встречи: напомнить клиенту</text>
<text class="to" x="679.3" y="477.8" textLength="18">о встрече звонком.</text>
<text class="to" x="679.3" y="481.5" textLength="29.4">Подготовить расчёт и кейсы из</text>
<text class="to" x="679.3" y="484.2" textLength="18">отрасли клиента.</text>
<text class="to" x="679.3" y="487.9" textLength="29.4">Согласовать участие руководителя</text>
<text class="to" x="679.3" y="490.6" textLength="18">отдела продаж.</text>
<text class="to" x="679.3" y="494.3" textLength="29.4">Внести все данные в CRM и поставить</text>
<text class="to" x="679.3" y="497" textLength="29.4">задачу на подготовку материалов</text>
<text class="to" x="679.3" y="499.7" textLength="14">к встрече.</text>
<rect class="ol" x="712.7" y="488" width="20" height="2.5"/><text class="to" x="713.2" y="489.9" textLength="19">Проведение встречи</text>
<rect class="ob" x="734.7" y="479.7" width="32.6" height="17"/>
<text class="to" x="736" y="482.5" textLength="30">Выявить потребности, презентовать</text>
<text class="to" x="736" y="485.7" textLength="30">решение, ответить на вопросы,</text>
<text class="to" x="736" y="488.4" textLength="30">обсудить условия сотрудничества</text>
<text class="to" x="736" y="491.1" textLength="18">и следующий шаг.</text>
<text class="to" x="736" y="494.8" textLength="12">Итог встречи.</text>
<rect class="ol" x="770.7" y="488" width="31" height="2.5"/><text class="to" x="771.2" y="489.9" textLength="30">Отправить КП и договор на согласование</text>
<rect class="ob" x="804" y="485.7" width="28.7" height="5.3"/>
<text class="to" x="805.3" y="488" textLength="26.1">Перевести сделку на этап «Переговоры»</text>
<text class="to" x="805.3" y="490.4" textLength="16">в CRM-системе</text>
</g>
<g id="o-r2">
<rect class="ol" x="535" y="523.3" width="4" height="2.5"/><text class="to" x="535.5" y="525.2" textLength="3">Нет</text>
<rect class="ol" x="542.7" y="523" width="30.6" height="2.7"/><text class="to" x="543.2" y="525" textLength="29.6">Клиент не готов к встрече сейчас</text>
<rect class="ol" x="578.7" y="510.6" width="5.3" height="2.5"/><text class="to" x="579.1" y="512.5" textLength="4.5">Почему</text>
<rect class="ob" x="587.3" y="503.3" width="32" height="16.7"/>
<text class="to" x="588.6" y="506.1" textLength="29.4">Уточнить причину: нет времени, нет</text>
<text class="to" x="588.6" y="508.8" textLength="29.4">интереса, нет бюджета или решение</text>
<text class="to" x="588.6" y="511.5" textLength="29.4">принимает другой человек. Отработать</text>
<text class="to" x="588.6" y="514.2" textLength="29.4">возражение по скрипту из раздела</text>
<text class="to" x="588.6" y="516.9" textLength="16">«Возражения».</text>
<rect class="ob" x="622" y="506.7" width="32" height="10.6"/>
<text class="to" x="623.3" y="509.5" textLength="29.4">Если возражение отработано,</text>
<text class="to" x="623.3" y="512.2" textLength="29.4">вернуться к предложению встречи;</text>
<text class="to" x="623.3" y="514.9" textLength="20">если нет — к итогу.</text>
<rect class="ol" x="578.7" y="523.1" width="5.3" height="2.5"/><text class="to" x="579.1" y="525" textLength="4.5">Позже</text>
<rect class="ob" x="587.3" y="521" width="32" height="7.3"/>
<text class="to" x="588.6" y="523.6" textLength="29.4">Предложить созвониться позже и уточнить</text>
<text class="to" x="588.6" y="526.3" textLength="18">удобную дату</text>
<rect class="ol" x="621.3" y="523" width="26" height="2.7"/><text class="to" x="621.8" y="525" textLength="25">Поставить задачу в CRM</text>
<rect class="ol" x="578.7" y="533.1" width="8" height="2.5"/><text class="to" x="579.1" y="535" textLength="7.2">Пришлите</text>
<rect class="ob" x="589.3" y="531" width="30.7" height="6.7"/>
<text class="to" x="590.6" y="533.5" textLength="28.1">Отправить материалы и согласовать</text>
<text class="to" x="590.6" y="536.1" textLength="18">время звонка</text>
<rect class="ol" x="625" y="530.6" width="3.3" height="2.2"/><text class="to" x="625.3" y="532.3" textLength="2.7">Да</text>
<rect class="ob" x="630" y="529.3" width="30" height="4.7"/><text class="to" x="631.2" y="532.2" textLength="27.6">Звонок после получения материалов</text>
<rect class="ol" x="662.7" y="529.6" width="26.6" height="3.7"/><text class="to" x="663.2" y="532.1" textLength="25.6">Итог: перезвонить в срок</text>
<rect class="ol" x="625" y="535.9" width="3.3" height="2.2"/><text class="to" x="625.3" y="537.6" textLength="2.7">Нет</text>
<rect class="ob" x="630" y="535.3" width="30" height="3.7"/><text class="to" x="631.2" y="537.8" textLength="27.6">Напомнить о себе через месяц</text>
<rect class="ol" x="661.7" y="535.8" width="25" height="2.5"/><text class="to" x="662.2" y="537.7" textLength="24">Итог: повторный контакт</text>
</g>
<g id="o-r3">
<rect class="ol" x="535" y="553.1" width="8.3" height="2.5"/><text class="to" x="535.5" y="555" textLength="7.3">Итоги</text>
<rect class="ob" x="546" y="548.3" width="30.7" height="11.7"/>
<text class="to" x="547.3" y="551.1" textLength="28.1">После звонка зафиксировать итог</text>
<text class="to" x="547.3" y="553.8" textLength="28.1">в CRM, поставить следующую задачу</text>
<text class="to" x="547.3" y="556.5" textLength="28.1">и отправить письмо клиенту</text>
<text class="to" x="547.3" y="559.2" textLength="12">с резюме.</text>
<rect class="ol" x="579.3" y="541.2" width="14" height="2.3"/><text class="to" x="579.8" y="543" textLength="13">Встреча назначена</text>
<rect class="ol" x="596.7" y="541.2" width="10.6" height="2.3"/><text class="to" x="597.2" y="543" textLength="9.6">Этап 2</text>
<rect class="ol" x="579.3" y="546.5" width="10.7" height="2.5"/><text class="to" x="579.8" y="548.4" textLength="9.7">Перезвонить</text>
<rect class="ob" x="592.3" y="544.3" width="31.7" height="8"/>
<text class="to" x="593.6" y="547" textLength="29.1">Перезвонить в согласованное время,</text>
<text class="to" x="593.6" y="549.7" textLength="29.1">напомнить о предыдущем разговоре</text>
<rect class="ol" x="627.7" y="545.1" width="3" height="2.2"/><text class="to" x="627.9" y="546.8" textLength="2.6">Да</text>
<rect class="ol" x="633.3" y="545" width="11.7" height="2.4"/><text class="to" x="633.8" y="546.8" textLength="10.7">Этап 2</text>
<rect class="ol" x="627.7" y="548.9" width="3" height="2.2"/><text class="to" x="627.9" y="550.6" textLength="2.6">Нет</text>
<rect class="ol" x="633.3" y="548.8" width="11.7" height="2.4"/><text class="to" x="633.8" y="550.6" textLength="10.7">Отказ</text>
<rect class="ol" x="579.3" y="553.1" width="14" height="2.3"/><text class="to" x="579.8" y="554.9" textLength="13">Отправить КП</text>
<rect class="ol" x="596.7" y="553.1" width="11.6" height="2.3"/><text class="to" x="597.2" y="554.9" textLength="10.6">Этап 3</text>
<rect class="ol" x="579.3" y="568.3" width="32.4" height="3.3"/><text class="to" x="579.8" y="570.5" textLength="31.4">Клиент просит время подумать о предложении</text>
<rect class="ob" x="614" y="566.3" width="31" height="6"/>
<text class="to" x="615.3" y="568.8" textLength="28.4">Согласовать срок ответа и уточнить,</text>
<text class="to" x="615.3" y="571.4" textLength="18">какие есть сомнения</text>
<rect class="ob" x="648.3" y="559.7" width="21" height="4.6"/><text class="to" x="649.5" y="562.6" textLength="18.6">Ответ в срок получен</text>
<rect class="ol" x="672.7" y="556.5" width="15.6" height="2.4"/><text class="to" x="673.2" y="558.3" textLength="14.6">Положительный</text>
<rect class="ol" x="690.7" y="556.5" width="11" height="2.4"/><text class="to" x="691.2" y="558.3" textLength="10">Этап 2</text>
<rect class="ol" x="672.7" y="561.1" width="15.6" height="2.4"/><text class="to" x="673.2" y="562.9" textLength="14.6">Отрицательный</text>
<rect class="ol" x="690.7" y="561.1" width="11" height="2.4"/><text class="to" x="691.2" y="562.9" textLength="10">Отказ</text>
<rect class="ob" x="672.7" y="564.3" width="30" height="9"/>
<text class="to" x="674" y="567" textLength="27.4">Нужны дополнительные условия:</text>
<text class="to" x="674" y="569.7" textLength="27.4">скидка, отсрочка, другой объём —</text>
<text class="to" x="674" y="572.4" textLength="18">согласовать с руководителем</text>
<rect class="ol" x="706" y="565" width="3.3" height="2"/><text class="to" x="706.3" y="566.6" textLength="2.7">Да</text>
<rect class="ol" x="712.3" y="565" width="9.4" height="2"/><text class="to" x="712.7" y="566.6" textLength="8.6">Этап 2</text>
<rect class="ol" x="706" y="570" width="3.3" height="2"/><text class="to" x="706.3" y="571.6" textLength="2.7">Нет</text>
<rect class="ol" x="712.3" y="570" width="9.4" height="2"/><text class="to" x="712.7" y="571.6" textLength="8.6">Отказ</text>
<rect class="ob" x="648.3" y="573.3" width="30" height="7.4"/>
<text class="to" x="649.6" y="576" textLength="27.4">Ответ не получен: перезвонить</text>
<text class="to" x="649.6" y="578.7" textLength="27.4">и уточнить статус решения клиента</text>
</g>
</svg>
